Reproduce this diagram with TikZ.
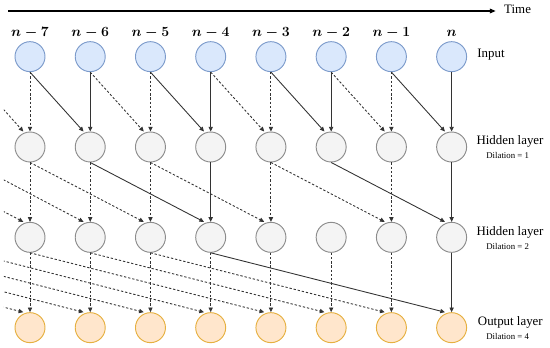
\documentclass[tikz,border=0pt]{standalone}
\usepackage{fontspec}
\setmainfont{Liberation Serif}
\usepackage{tikz}
\usetikzlibrary{arrows.meta}
\definecolor{inblue}{HTML}{DAE8FC}
\definecolor{inedge}{HTML}{7C9BCB}
\definecolor{hidgray}{HTML}{F4F4F4}
\definecolor{hidedge}{HTML}{8C8C8C}
\definecolor{outsoft}{HTML}{FFE6CC}
\definecolor{outedge}{HTML}{E6B040}
\definecolor{wire}{HTML}{333333}
\tikzset{
  unit/.style={circle,minimum size=9mm,inner sep=0pt,line width=0.8pt},
  uin/.style={unit,draw=inedge,fill=inblue},
  uhid/.style={unit,draw=hidedge,fill=hidgray},
  uout/.style={unit,draw=outedge,fill=outsoft},
  warr/.style={-{Triangle[length=4pt,width=3.6pt]},line width=0.75pt,draw=wire},
  wdash/.style={warr,dash pattern=on 2pt off 1.6pt},
  laylab/.style={inner sep=0pt,font=\fontsize{11}{13}\selectfont},
  dillab/.style={inner sep=0pt,font=\fontsize{7.5}{9}\selectfont}
}

\begin{document}
\begin{tikzpicture}[font=\fontsize{11}{13}\selectfont]
  \useasboundingbox (0,0) rectangle (16.5,10.41);
  % time axis
  \coordinate (t0) at (0.24,10.08);
  \coordinate (t1) at (14.87,10.08);
  \draw[-{Triangle[length=5pt,width=4pt]},line width=0.9pt] (t0) -- (t1);
  \node[laylab,anchor=west] (time) at (15.12,10.12) {Time};
  % units: one column per time step
  \foreach \i/\lab in {0/n-7,1/n-6,2/n-5,3/n-4,4/n-3,5/n-2,6/n-1,7/n}{
    \pgfmathsetmacro{\x}{0.9+1.807*\i}
    \node[font=\fontsize{11.5}{13}\selectfont\boldmath] (lab\i) at (\x,9.42) {$\lab$};
    \node[uin] (in\i) at (\x,8.71) {};
    \node[uhid] (ha\i) at (\x,6.00) {};
    \node[uhid] (hb\i) at (\x,3.29) {};
    \node[uout] (out\i) at (\x,0.58) {};
  }
  % steps left of the picture
  \coordinate (ga0) at (-0.907,8.26);
  \coordinate (gb0) at (-2.714,5.55);
  \coordinate (gb1) at (-0.907,5.55);
  \foreach \k in {0,...,3}{
    \pgfmathsetmacro{\x}{0.9+1.807*(\k-4)}
    \coordinate (gc\k) at (\x,2.84);
  }
  \begin{scope}
    \clip (0.12,0) rectangle (16.5,10.41);
    \foreach \a/\b in {ga0/ha0,gb0/hb0,gb1/hb1,gc0/out0,gc1/out1,gc2/out2,gc3/out3}
      \draw[wdash] (\a) -- ([xshift=-2mm]\b.north);
  \end{scope}
  % input -> hidden layer (dilation 1)
  \foreach \a/\b/\s in {in0/ha0/wdash,in1/ha1/warr,in2/ha2/wdash,in3/ha3/warr,
                        in4/ha4/wdash,in5/ha5/warr,in6/ha6/wdash,in7/ha7/warr}
    \draw[\s] (\a.south) -- (\b.north);
  \foreach \a/\b/\s in {in0/ha1/warr,in1/ha2/wdash,in2/ha3/warr,in3/ha4/wdash,
                        in4/ha5/warr,in5/ha6/wdash,in6/ha7/warr}
    \draw[\s] (\a.south) -- ([xshift=-2mm]\b.north);
  % hidden -> hidden (dilation 2)
  \foreach \a/\b/\s in {ha0/hb0/wdash,ha1/hb1/wdash,ha2/hb2/wdash,ha3/hb3/warr,
                        ha4/hb4/wdash,ha6/hb6/wdash,ha7/hb7/warr}
    \draw[\s] (\a.south) -- (\b.north);
  \foreach \a/\b/\s in {ha0/hb2/wdash,ha1/hb3/warr,ha2/hb4/wdash,ha4/hb6/wdash,ha5/hb7/warr}
    \draw[\s] (\a.south) -- ([xshift=-2mm]\b.north);
  % hidden -> output (dilation 4)
  \foreach \a/\b/\s in {hb0/out0/wdash,hb1/out1/wdash,hb2/out2/wdash,hb3/out3/wdash,
                        hb4/out4/wdash,hb5/out5/wdash,hb6/out6/wdash,hb7/out7/warr}
    \draw[\s] (\a.south) -- (\b.north);
  \foreach \a/\b/\s in {hb0/out4/wdash,hb1/out5/wdash,hb2/out6/wdash,hb3/out7/warr}
    \draw[\s] (\a.south) -- ([xshift=-2mm]\b.north);
  % layer names
  \node[laylab] (lin) at (14.73,8.76) {Input};
  \node[laylab] (lha) at (15.30,6.18) {Hidden layer};
  \node[dillab] (dha) at (15.23,5.76) {Dilation = 1};
  \node[laylab] (lhb) at (15.30,3.45) {Hidden layer};
  \node[dillab] (dhb) at (15.23,3.03) {Dilation = 2};
  \node[laylab] (lout) at (15.31,0.75) {Output layer};
  \node[dillab] (dout) at (15.23,0.33) {Dilation = 4};
\end{tikzpicture}
\end{document}
